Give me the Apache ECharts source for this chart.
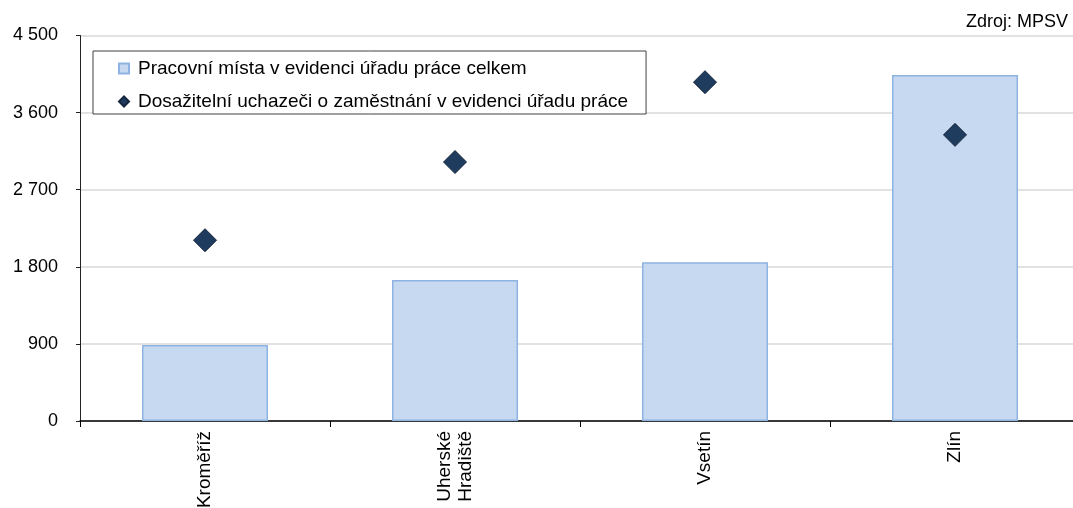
<!DOCTYPE html>
<html><head><meta charset="utf-8">
<script src="https://cdn.jsdelivr.net/npm/echarts@6/dist/echarts.min.js"></script>
<style>html,body{margin:0;padding:0;background:#fff}#c{width:1073px;height:508px}</style>
</head><body><div id="c"></div>
<script>
const categories = ['Kroměříž', 'Uherské\nHradiště', 'Vsetín', 'Zlín'];
const jobs = [888, 1646, 1853, 4040];
const applicants = [2110, 3023, 3955, 3340];
const seriesNames = ['Pracovní místa v evidenci úřadu práce celkem', 'Dosažitelní uchazeči o zaměstnání v evidenci úřadu práce'];
const yTicks = [0, 900, 1800, 2700, 3600, 4500];
const sourceText = 'Zdroj: MPSV';

const font = 'Arial, "Liberation Sans", sans-serif';
const chart = echarts.init(document.getElementById('c'), null, {renderer: 'canvas'});
chart.setOption({
  animation: false,
  backgroundColor: '#fff',
  textStyle: {fontFamily: font},
  title: {text: sourceText, right: 0, top: 8, textStyle: {fontSize: 18, fontWeight: 'normal', color: '#000', fontFamily: font}},
  grid: {left: 80, top: 35.5, width: 1000, bottom: 87, containLabel: false, outerBoundsMode: 'none'},
  legend: {
    orient: 'vertical', left: 93, top: 51,
    backgroundColor: '#fff', borderColor: '#404040', borderWidth: 1,
    padding: [8, 18, 3, 25], itemGap: 14, itemWidth: 10, itemHeight: 10,
    textStyle: {fontSize: 19, color: '#000', fontFamily: font, padding: [0, 0, 0, 4]},
    data: [
      {name: seriesNames[0], icon: 'rect'},
      {name: seriesNames[1], icon: 'diamond'}
    ]
  },
  xAxis: {
    type: 'category', data: categories,
    axisLine: {lineStyle: {color: '#000', width: 1.5}},
    axisTick: {show: true, length: 6, interval: 0, lineStyle: {color: '#000'}},
    axisLabel: {rotate: 90, fontSize: 19, color: '#000', interval: 0, margin: 10, fontFamily: font, lineHeight: 21}
  },
  yAxis: {
    type: 'value', min: 0, max: 4500, interval: 900,
    axisLine: {show: true, lineStyle: {color: '#222', width: 1}},
    axisTick: {show: true, length: 4, lineStyle: {color: '#222'}},
    splitLine: {lineStyle: {color: '#d9d9d9', width: 1.5}},
    axisLabel: {fontSize: 18, color: '#000', margin: 22, fontFamily: font,
      formatter: v => String(v).replace(/\B(?=(\d{3})+(?!\d))/g, ' ')}
  },
  series: [
    {name: seriesNames[0], type: 'bar', data: jobs, barWidth: 126,
     itemStyle: {color: '#c6d9f0', borderColor: '#8db3e2', borderWidth: 1.5}, z: 2},
    {name: seriesNames[1], type: 'scatter', data: applicants, symbol: 'diamond', symbolSize: 23,
     itemStyle: {color: '#1f3b5e', borderColor: '#14263d', borderWidth: 1, opacity: 1}, z: 3}
  ]
});
</script></body></html>
